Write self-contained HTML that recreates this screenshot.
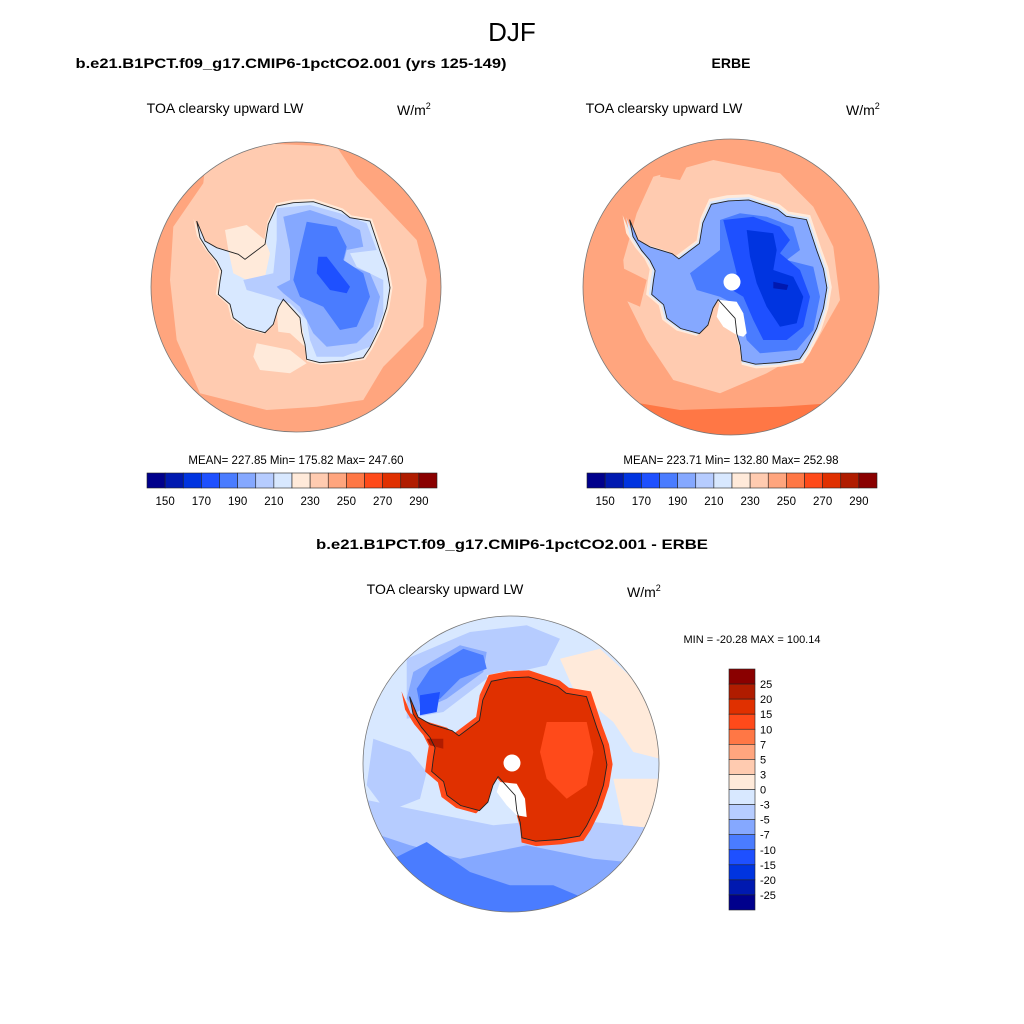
<!DOCTYPE html>
<html><head><meta charset="utf-8"><style>
html,body{margin:0;padding:0;background:#fff;}
svg{display:block;font-family:"Liberation Sans",Arial,sans-serif;}
</style></head><body>
<svg id="fig" width="1024" height="1024" viewBox="0 0 1024 1024" xmlns="http://www.w3.org/2000/svg">
<text x="512" y="41" font-size="26" text-anchor="middle">DJF</text>
<text x="291" y="68" font-size="14" font-weight="bold" text-anchor="middle" textLength="431" lengthAdjust="spacingAndGlyphs">b.e21.B1PCT.f09_g17.CMIP6-1pctCO2.001 (yrs 125-149)</text>
<text x="731" y="68" font-size="14" font-weight="bold" text-anchor="middle">ERBE</text>
<text x="512" y="549" font-size="14" font-weight="bold" text-anchor="middle" textLength="392" lengthAdjust="spacingAndGlyphs">b.e21.B1PCT.f09_g17.CMIP6-1pctCO2.001 - ERBE</text>

<text x="225" y="113" font-size="14" text-anchor="middle">TOA clearsky upward LW</text>
<text x="397" y="115" font-size="14">W/m<tspan font-size="9" dy="-6">2</tspan></text>
<text x="664" y="113" font-size="14" text-anchor="middle">TOA clearsky upward LW</text>
<text x="846" y="115" font-size="14">W/m<tspan font-size="9" dy="-6">2</tspan></text>
<text x="445" y="594" font-size="14" text-anchor="middle">TOA clearsky upward LW</text>
<text x="627" y="597" font-size="14">W/m<tspan font-size="9" dy="-6">2</tspan></text>

<text x="296" y="464" font-size="11.5" text-anchor="middle">MEAN= 227.85  Min= 175.82  Max= 247.60</text>
<text x="731" y="464" font-size="11.5" text-anchor="middle">MEAN= 223.71  Min= 132.80  Max= 252.98</text>
<text x="752" y="643" font-size="11" text-anchor="middle">MIN = -20.28 MAX = 100.14</text>

<g id="maps"></g>
<g id="bars"></g>
</svg>
<script>
const colors = ["#00008c","#0019b0","#0034e0","#1e50ff","#4a7cff","#85a8ff","#b6ccff","#d8e8ff","#ffeada","#ffcbb0","#ffa57e","#ff7745","#ff4a1a","#e03000","#b01c00","#8a0000"];
const absLabels = ["150","170","190","210","230","250","270","290"];
const absLabelIdx = [1,3,5,7,9,11,13,15];
const diffLabels = ["25","20","15","10","7","5","3","0","-3","-5","-7","-10","-15","-20","-25"];

const NS="http://www.w3.org/2000/svg";
function mk(tag, attrs, parent){const e=document.createElementNS(NS,tag);for(const k in attrs)e.setAttribute(k,attrs[k]);parent.appendChild(e);return e;}

const zpts=[[140,240],[165,300],[200,320],[265,340],[285,355],[345,310],[355,250],[380,195],[430,185],[490,182],[575,210],[600,230],[660,240],[680,300],[690,330],[710,385],[720,440],[710,500],[690,560],[660,620],[640,650],[580,660],[510,665],[470,655],[465,610],[455,575],[450,530],[400,475],[385,500],[370,550],[345,575],[290,560],[250,530],[240,490],[205,460],[210,420],[215,390],[200,360],[175,330],[150,290]];
const ant=zpts.map(p=>[(p[0]/3-146)/145,(p[1]/3-146)/145]);

function pathOf(pts,cx,cy,r,s,ox,oy){
  return "M"+pts.map(p=>{const u=ox+(p[0]-ox)*s,v=oy+(p[1]-oy)*s;return (cx+u*r).toFixed(1)+","+(cy+v*r).toFixed(1);}).join("L")+"Z";
}
function zb(g,ox,oy,col,pts){
  return mk("path",{d:"M"+pts.map(p=>(p[0]/3+ox).toFixed(1)+","+(p[1]/3+oy).toFixed(1)).join("L")+"Z",fill:col},g);
}

const maps=document.getElementById("maps");
function map(id,cx,cy,r,build){
  const defs=mk("defs",{},maps);
  const cp=mk("clipPath",{id:"clip"+id},defs);
  mk("circle",{cx,cy,r},cp);
  const g=mk("g",{"clip-path":"url(#clip"+id+")"},maps);
  
  
  build(g);
  const c=mk("path",{d:pathOf(ant,cx,cy,r,1,0,0),fill:"none",stroke:"#222","stroke-width":"0.9"},g);
  
  
  const o=mk("circle",{cx,cy,r,fill:"none",stroke:"#777","stroke-width":"0.8"},maps);
  
  
}
// Map 1
map(1,296,287,145,g=>{
  const O=[150,140];
  mk("rect",{x:140,y:130,width:320,height:320,fill:colors[10]},g);
  zb(g,...O,colors[9],[[170,40],[330,10],[560,20],[620,110],[800,300],[830,420],[820,560],[700,680],[640,780],[500,800],[350,810],[150,760],[80,600],[60,420],[70,260],[160,130]]);
  zb(g,...O,colors[8],[[320,610],[420,630],[470,670],[420,700],[330,690],[310,650]]);
  mk("path",{d:pathOf(ant,296,287,145,1.03,0.05,0.05),fill:colors[8]},g);
  mk("path",{d:pathOf(ant,296,287,145,1,0,0),fill:colors[7]},g);
  zb(g,...O,colors[8],[[225,270],[290,255],[345,300],[360,340],[345,410],[290,420],[250,400],[235,330]]);
  zb(g,...O,colors[8],[[400,475],[450,530],[460,580],[465,620],[420,580],[385,575],[380,510]]);
  zb(g,...O,colors[6],[[380,205],[480,195],[570,220],[650,250],[680,330],[600,340],[620,380],[700,420],[700,520],[660,620],[580,650],[500,650],[480,600],[470,540],[420,490],[360,470],[290,450],[280,420],[370,400],[380,300]]);
  zb(g,...O,colors[5],[[400,230],[480,210],[570,240],[630,270],[640,320],[590,330],[580,370],[660,400],[690,470],[670,560],[620,610],[530,620],[490,580],[450,500],[400,460],[380,440],[420,420],[420,330]]);
  zb(g,...O,colors[4],[[470,245],[560,260],[590,320],[580,360],[640,400],[660,470],[620,560],[570,570],[520,500],[450,470],[430,420],[450,330]]);
  zb(g,...O,colors[3],[[505,350],[530,350],[600,440],[590,460],[540,450],[500,400]]);
});
// Map 2
map(2,731,287,148,g=>{
  const O=[580,140];
  mk("rect",{x:575,y:130,width:320,height:320,fill:colors[10]},g);
  zb(g,...O,colors[9],[[220,110],[400,60],[600,100],[700,200],[760,320],[780,480],[700,620],[560,700],[420,760],[280,720],[200,600],[140,480],[130,360],[170,220]]);
  zb(g,...O,colors[10],[[250,70],[320,80],[300,120],[240,110]]);
  zb(g,...O,colors[10],[[120,380],[200,420],[180,500],[110,470]]);
  zb(g,...O,colors[11],[[0,760],[300,810],[600,800],[900,780],[900,900],[0,900]]);
  mk("path",{d:pathOf(ant,731,287,148,1.06,0.1,0.05),fill:colors[8]},g);
  mk("path",{d:pathOf(ant,731,287,148,1.03,0.1,0.05),fill:colors[7]},g);
  mk("path",{d:pathOf(ant,731,287,148,1,0,0),fill:colors[5]},g);
  zb(g,...O,colors[4],[[330,400],[420,330],[420,240],[480,220],[560,230],[640,260],[660,330],[620,360],[700,380],[720,470],[700,570],[650,630],[540,640],[500,600],[480,500],[420,470],[350,450]]);
  zb(g,...O,colors[3],[[430,240],[520,230],[600,260],[630,300],[600,340],[660,390],[690,470],[670,560],[620,600],[550,600],[520,540],[490,470],[440,440],[470,400],[450,320]]);
  zb(g,...O,colors[2],[[500,270],[580,280],[590,330],[580,390],[640,410],[670,470],[650,550],[600,560],[560,500],[530,430],[510,350]]);
  zb(g,...O,colors[1],[[580,425],[625,435],[620,450],[580,445]]);
  zb(g,...O,"#fff",[[420,480],[470,485],[490,520],[500,580],[490,590],[470,585],[430,560],[410,530]]);
  mk("circle",{cx:732,cy:282,r:8.5,fill:"#fff"},g);
});
// Map 3
map(3,511,764,148,g=>{
  const O=[360,612];
  mk("rect",{x:355,y:605,width:320,height:320,fill:colors[7]},g);
  zb(g,...O,colors[6],[[0,560],[200,600],[400,640],[600,620],[900,650],[900,900],[0,900]]);
  zb(g,...O,colors[5],[[0,650],[150,700],[300,740],[500,700],[700,740],[900,760],[900,900],[0,900]]);
  zb(g,...O,colors[4],[[80,750],[200,690],[330,780],[450,820],[580,820],[700,870],[700,900],[80,900]]);
  zb(g,...O,colors[6],[[40,380],[150,420],[200,480],[180,560],[80,600],[20,520]]);
  zb(g,...O,colors[6],[[140,140],[330,60],[500,40],[600,80],[560,160],[380,200],[250,300],[140,320]]);
  zb(g,...O,colors[5],[[160,180],[300,100],[380,120],[370,180],[260,260],[170,300],[140,260]]);
  zb(g,...O,colors[4],[[210,170],[310,110],[370,130],[380,170],[300,200],[240,260],[180,280],[170,230]]);
  zb(g,...O,colors[3],[[180,250],[240,240],[230,300],[180,310]]);
  zb(g,...O,colors[8],[[600,140],[720,110],[840,220],[900,320],[900,440],[820,420],[760,330],[640,230]]);
  zb(g,...O,colors[8],[[760,500],[900,500],[900,650],[790,640]]);
  zb(g,...O,colors[8],[[380,190],[450,175],[540,190],[520,230],[400,240]]);
  mk("path",{d:pathOf(ant,511,764,148,1.07,0.1,0.05),fill:colors[12]},g);
  mk("path",{d:pathOf(ant,511,764,148,1,0,0),fill:colors[13]},g);
  zb(g,...O,colors[12],[[560,330],[680,330],[700,420],[680,520],[620,560],[560,500],[540,420]]);
  zb(g,...O,colors[14],[[200,380],[250,380],[250,410],[210,400]]);
  zb(g,...O,"#fff",[[420,510],[470,515],[495,560],[500,615],[470,610],[440,580],[410,540]]);
  mk("circle",{cx:512,cy:763,r:8.5,fill:"#fff"},g);
});

const bars=document.getElementById("bars");
function hbar(id,x0,y0,w,h){
  const bw=w/colors.length;
  colors.forEach((c,i)=>{
    const r=mk("rect",{x:x0+i*bw,y:y0,width:bw,height:h,fill:c,stroke:"#222","stroke-width":"0.6"},bars);
    
    
  });
  absLabels.forEach((t,k)=>{
    const e=mk("text",{x:x0+absLabelIdx[k]*bw,y:y0+h+17,"font-size":"11.5","text-anchor":"middle"},bars);
    e.textContent=t;
    
    
  });
}
hbar("panel1",147,473,290,15);
hbar("panel2",587,473,290,15);
(function(){
  const x0=729,y0=669,w=26,h=241,bh=h/colors.length;
  colors.slice().reverse().forEach((c,i)=>{
    const r=mk("rect",{x:x0,y:y0+i*bh,width:w,height:bh,fill:c,stroke:"#222","stroke-width":"0.6"},bars);
    
    
  });
  diffLabels.forEach((t,i)=>{
    const e=mk("text",{x:x0+w+5,y:y0+(i+1)*bh+4,"font-size":"11"},bars);
    e.textContent=t;
    
    
  });
})();
</script>
</body></html>
